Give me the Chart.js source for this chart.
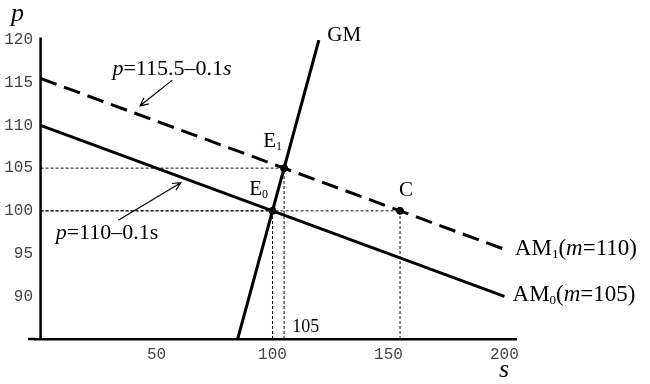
<!DOCTYPE html>
<html>
<head>
<meta charset="utf-8">
<script src="https://cdn.jsdelivr.net/npm/chart.js@4/dist/chart.umd.min.js"></script>
<style>
  html, body { margin: 0; padding: 0; background: #fff; }
  #wrap { width: 650px; height: 384px; position: relative; }
</style>
</head>
<body>
<div id="wrap"><canvas id="chart" width="650" height="384"></canvas></div>
<script>
// values
const sEnds = [0, 200];
const am0P = [110, 90];        // p = 110 - 0.1s
const am1P = [115.5, 95.5];    // p = 115.5 - 0.1s
const gmS = [85, 120];
const gmP = [85, 120];
const pointNames = ["E0", "E1", "C"];
const pointS = [100, 105, 155];
const pointP = [100, 105, 100];
const xTicks = [50, 100, 150, 200];
const yTicks = [90, 95, 100, 105, 110, 115, 120];

const toXY = (xs, ys) => xs.map((x, i) => ({ x, y: ys[i] }));

// dotted guide lines from each point down to the s axis and across to the p axis
const guides = [];
pointS.forEach((s, i) => {
  guides.push(toXY([s, s], [85, pointP[i]]));
  guides.push(toXY([0, s], [pointP[i], pointP[i]]));
});

const guideSets = guides.map((d) => ({
  data: d, showLine: true, borderColor: "#111", borderWidth: 1,
  borderDash: [3, 2], pointRadius: 0, fill: false,
}));

const serif = '"Liberation Serif", "DejaVu Serif", serif';

// text and arrows, placed in data units
const notes = [
  { parts: [["p", "italic"], ["=115.5\u20130.1", ""], ["s", "italic"]], s: 31, p: 115.9, size: 22 },
  { parts: [["p", "italic"], ["=110\u20130.1s", ""]], s: 6.5, p: 96.7, size: 22 },
  { parts: [["GM", ""]], s: 123.6, p: 119.9, size: 21 },
  { parts: [["E", ""]], s: 96, p: 107.5, size: 21, sub: "1" },
  { parts: [["E", ""]], s: 90, p: 101.8, size: 21, sub: "0" },
  { parts: [["C", ""]], s: 154.5, p: 101.7, size: 21 },
  { parts: [["105", ""]], s: 108.5, p: 85.8, size: 18 },
  { parts: [["AM", ""]], s: 204.5, p: 94.85, size: 23, sub: "1", tail: [["(", ""], ["m", "italic"], ["=110)", ""]] },
  { parts: [["AM", ""]], s: 203.5, p: 89.4, size: 23, sub: "0", tail: [["(", ""], ["m", "italic"], ["=105)", ""]] },
];
const arrows = [
  { from: [56.8, 115.3], to: [42.9, 112.3] },
  { from: [33.5, 98.9], to: [60.5, 103.3] },
];

const overlay = {
  id: "overlay",
  afterDatasetsDraw(chart) {
    const { ctx, chartArea, scales: { x, y } } = chart;
    ctx.save();
    ctx.strokeStyle = "#000";
    ctx.lineWidth = 2.5;
    // vertical p axis at s = 0, and the s axis running a little past it
    ctx.beginPath();
    ctx.moveTo(x.getPixelForValue(0), y.getPixelForValue(85));
    ctx.lineTo(x.getPixelForValue(0), y.getPixelForValue(120.3));
    ctx.moveTo(chartArea.left - 7, chartArea.bottom);
    ctx.lineTo(chartArea.left, chartArea.bottom);
    ctx.stroke();

    ctx.fillStyle = "#000";
    ctx.textBaseline = "alphabetic";
    const drawRun = (runs, px, py, size) => {
      runs.forEach(([t, st]) => {
        ctx.font = `${st} ${size}px ${serif}`;
        ctx.fillText(t, px, py);
        px += ctx.measureText(t).width;
      });
      return px;
    };
    notes.forEach((n) => {
      let px = x.getPixelForValue(n.s);
      const py = y.getPixelForValue(n.p);
      px = drawRun(n.parts, px, py, n.size);
      if (n.sub) {
        ctx.font = `${Math.round(n.size * 0.55)}px ${serif}`;
        ctx.fillText(n.sub, px, py + 3);
        px += ctx.measureText(n.sub).width;
      }
      if (n.tail) drawRun(n.tail, px, py, n.size);
    });

    // axis names
    ctx.font = `italic 26px ${serif}`;
    ctx.fillText("p", 11, 21);
    ctx.fillText("s", 499, 377);

    ctx.lineWidth = 1.2;
    arrows.forEach((a) => {
      const x1 = x.getPixelForValue(a.from[0]), y1 = y.getPixelForValue(a.from[1]);
      const x2 = x.getPixelForValue(a.to[0]), y2 = y.getPixelForValue(a.to[1]);
      const ang = Math.atan2(y2 - y1, x2 - x1);
      ctx.beginPath();
      ctx.moveTo(x1, y1);
      ctx.lineTo(x2, y2);
      ctx.moveTo(x2 - 9 * Math.cos(ang - 0.45), y2 - 9 * Math.sin(ang - 0.45));
      ctx.lineTo(x2, y2);
      ctx.lineTo(x2 - 9 * Math.cos(ang + 0.45), y2 - 9 * Math.sin(ang + 0.45));
      ctx.stroke();
    });
    ctx.restore();
  },
};

new Chart(document.getElementById("chart"), {
  type: "scatter",
  data: {
    datasets: [
      ...guideSets,
      { data: toXY(sEnds, am0P), showLine: true, borderColor: "#000", borderWidth: 3, pointRadius: 0 },
      { data: toXY(sEnds, am1P), showLine: true, borderColor: "#000", borderWidth: 3, borderDash: [17, 8], pointRadius: 0 },
      { data: toXY(gmS, gmP), showLine: true, borderColor: "#000", borderWidth: 3, pointRadius: 0 },
      { data: toXY(pointS, pointP), showLine: false, backgroundColor: "#000", borderColor: "#000", pointRadius: 3.5 },
    ],
  },
  options: {
    responsive: false,
    animation: false,
    layout: { padding: { top: 40, right: 134, left: 0, bottom: 0 } },
    plugins: { legend: { display: false }, tooltip: { enabled: false } },
    scales: {
      x: {
        type: "linear", min: -2.4, max: 205,
        afterBuildTicks: (s) => { s.ticks = xTicks.map((v) => ({ value: v })); },
        afterFit: (s) => { s.height = 45; },
        grid: { display: false, drawTicks: false },
        border: { display: true, color: "#000", width: 2.5 },
        ticks: { color: "#444", padding: 6, font: { family: '"Liberation Mono", monospace', size: 16 } },
      },
      y: {
        type: "linear", min: 85, max: 120,
        afterBuildTicks: (s) => { s.ticks = yTicks.map((v) => ({ value: v })); },
        afterFit: (s) => { s.width = 35; },
        grid: { display: false, drawTicks: false },
        border: { display: false },
        ticks: { color: "#444", padding: 2, font: { family: '"Liberation Mono", monospace', size: 16 } },
      },
    },
  },
  plugins: [overlay],
});
</script>
</body>
</html>
